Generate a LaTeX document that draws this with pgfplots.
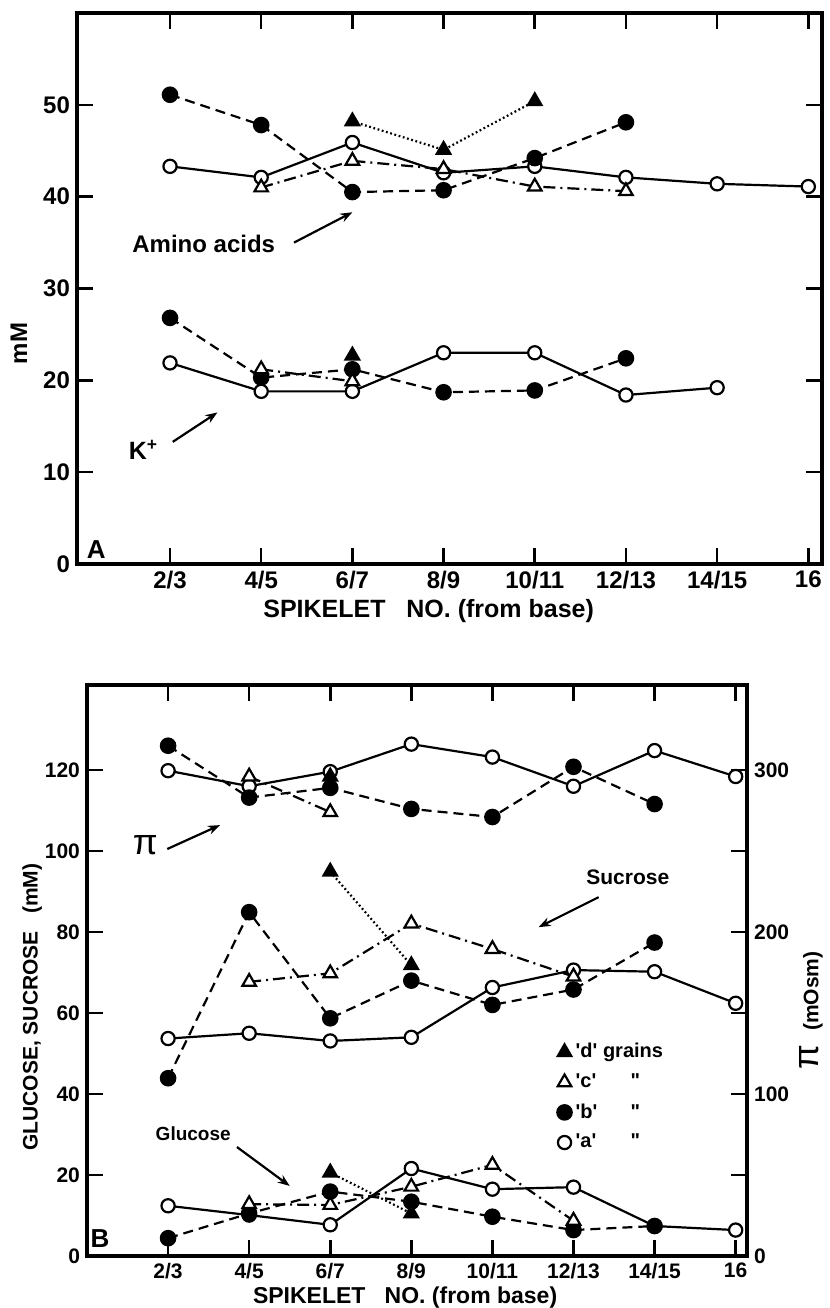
\documentclass[border=0pt]{standalone}
\usepackage{fontspec}
\setmainfont{Liberation Sans}
\usepackage{pgfplots}
\pgfplotsset{compat=1.18}
\usetikzlibrary{arrows.meta}

\tikzset{annarrow/.style={-{Stealth[length=6pt,width=4.5pt]}, line width=1.1pt, solid}}
\pgfplotsset{
  sa/.style={black, line width=1.1pt, solid, mark=*, mark size=3.3pt, mark options={solid, fill=white, line width=1.1pt}},
  sb/.style={black, line width=1.1pt, dash pattern=on 5pt off 3pt, mark=*, mark size=3.6pt, mark options={solid, fill=black}},
  sc/.style={black, line width=1.1pt, dash pattern=on 6pt off 2.5pt on 1pt off 2.5pt, mark=triangle*, mark size=3.9pt, mark options={solid, fill=white, line width=1.1pt}},
  sd/.style={black, line width=1.1pt, dash pattern=on 0.9pt off 1.3pt, mark=triangle*, mark size=3.9pt, mark options={solid, fill=black}},
  panel/.style={
    scale only axis, clip=false,
    axis line style={line width=1.8pt},
    every tick/.style={line width=1.3pt, black},
    major tick length=8pt, tick align=inside,
    xtick={0,...,7},
    xticklabels={2/3,4/5,6/7,8/9,10/11,12/13,14/15,16},
    /pgf/number format/assume math mode=true,
    xtick pos=both,
  },
}

\begin{document}
\begin{tikzpicture}
\useasboundingbox (0,0) rectangle (415pt,654pt);

% ---------------- Panel A ----------------
\begin{axis}[panel,
  at={(38.5pt,372pt)}, anchor=south west,
  width=372.5pt, height=275.5pt,
  xmin=-1.02, xmax=7.15, ymin=0, ymax=60,
  ytick={0,10,20,30,40,50}, ytick pos=both,
  ticklabel style={font=\fontsize{12}{14}\selectfont\bfseries},
  yticklabel pos=left,
]
% amino acids
\addplot[sa] coordinates {(0,43.3)(1,42.1)(2,45.9)(3,42.6)(4,43.3)(5,42.1)(6,41.4)(7,41.1)};
\addplot[sb] coordinates {(0,51.1)(1,47.8)(2,40.5)(3,40.7)(4,44.2)(5,48.1)};
\addplot[sc] coordinates {(1,41.0)(2,43.9)(3,43.0)(4,41.1)(5,40.6)};
\addplot[sd] coordinates {(2,48.2)(3,45.1)(4,50.4)};
% K+
\addplot[sa] coordinates {(0,21.9)(1,18.8)(2,18.8)(3,23.0)(4,23.0)(5,18.4)(6,19.2)};
\addplot[sb] coordinates {(0,26.8)(1,20.3)(2,21.2)(3,18.7)(4,18.9)(5,22.4)};
\addplot[sc] coordinates {(1,21.2)(2,19.9)};
\addplot[sd] coordinates {(2,22.7)};

\node[font=\fontsize{12}{14}\selectfont\bfseries] at (axis cs:0.37,34.9) {Amino acids};
\draw[annarrow] (axis cs:1.36,35.0) -- (axis cs:2.0,38.3);
\node[font=\fontsize{12.5}{14}\selectfont\bfseries] at (axis cs:-0.29,12.4) {K\textsuperscript{+}};
\draw[annarrow] (axis cs:0.03,13.3) -- (axis cs:0.52,16.5);
\node[font=\fontsize{13}{14}\selectfont\bfseries] at (axis cs:-0.81,1.6) {A};
\node[font=\fontsize{12}{14}\selectfont\bfseries, rotate=90] at (rel axis cs:-0.078,0.40) {mM};
\node[font=\fontsize{12.5}{14}\selectfont\bfseries] at (rel axis cs:0.472,-0.085) {SPIKELET\ \ \ NO.\ (from base)};
\end{axis}

% ---------------- Panel B (left axis, mM) ----------------
\begin{axis}[panel,
  at={(43.5pt,26pt)}, anchor=south west,
  width=330pt, height=285.5pt,
  xmin=-1.0, xmax=7.14, ymin=0, ymax=141,
  ytick={0,20,...,120}, ytick pos=left,
  ticklabel style={font=\fontsize{10.5}{12}\selectfont\bfseries},
  legend style={at={(rel axis cs:0.712,0.38)}, anchor=north west, draw=none, fill=none,
    font=\fontsize{10}{12}\selectfont\bfseries, row sep=2.5pt, inner sep=0pt},
  legend cell align=left,
]
\addlegendimage{sd, only marks}
\addlegendentry{\textquotesingle d\textquotesingle\ grains}
\addlegendimage{sc, only marks}
\addlegendentry{\makebox[2.75em][l]{\textquotesingle c\textquotesingle}\textquotedbl}
\addlegendimage{sb, only marks}
\addlegendentry{\makebox[2.75em][l]{\textquotesingle b\textquotesingle}\textquotedbl}
\addlegendimage{sa, only marks}
\addlegendentry{\makebox[2.75em][l]{\textquotesingle a\textquotesingle}\textquotedbl}

% sucrose
\addplot[sa, forget plot] coordinates {(0,53.7)(1,55.0)(2,53.1)(3,54.0)(4,66.3)(5,70.6)(6,70.2)(7,62.4)};
\addplot[sb, forget plot] coordinates {(0,43.9)(1,84.9)(2,58.7)(3,68.0)(4,62.0)(5,65.8)(6,77.4)};
\addplot[sc, forget plot] coordinates {(1,67.7)(2,69.8)(3,82.1)(4,75.8)(5,69.0)};
\addplot[sd, forget plot] coordinates {(2,94.9)(3,71.8)};
% glucose
\addplot[sa, forget plot] coordinates {(0,12.4)(1,10.1)(2,7.7)(3,21.6)(4,16.5)(5,17.0)(6,7.4)(7,6.4)};
\addplot[sb, forget plot] coordinates {(0,4.4)(1,10.5)(2,15.9)(3,13.4)(4,9.7)(5,6.4)(6,7.4)};
\addplot[sc, forget plot] coordinates {(1,12.8)(2,12.6)(3,17.1)(4,22.5)(5,8.7)};
\addplot[sd, forget plot] coordinates {(2,20.6)(3,10.5)};

\node[font=\fontsize{18}{18}\selectfont] at (axis cs:-0.28,101.5) {π};
\draw[annarrow] (axis cs:-0.01,100.5) -- (axis cs:0.64,106.4);
\node[font=\fontsize{10.5}{12}\selectfont\bfseries] at (axis cs:5.67,93.6) {Sucrose};
\draw[annarrow] (axis cs:5.31,88.6) -- (axis cs:4.57,81.2);
\node[font=\fontsize{9.5}{11}\selectfont\bfseries] at (axis cs:0.31,30.3) {Glucose};
\draw[annarrow] (axis cs:0.85,26.9) -- (axis cs:1.5,17.3);
\node[font=\fontsize{13}{14}\selectfont\bfseries] at (axis cs:-0.84,4.2) {B};
\node[font=\fontsize{10.5}{12}\selectfont\bfseries, rotate=90] at (rel axis cs:-0.083,0.436) {GLUCOSE,\ SUCROSE\ \ \ (mM)};
\node[font=\fontsize{11.5}{14}\selectfont\bfseries] at (rel axis cs:0.482,-0.072) {SPIKELET\ \ \ NO.\ (from base)};
\node[rotate=90, anchor=center] at (rel axis cs:1.097,0.43) {{\fontsize{18}{18}\selectfont π}\hspace{0.7em}{\fontsize{10.5}{12}\selectfont\bfseries(mOsm)}};
\end{axis}

% ---------------- Panel B (right axis, mOsm) ----------------
\begin{axis}[
  scale only axis, clip=false,
  at={(43.5pt,26pt)}, anchor=south west,
  width=330pt, height=285.5pt,
  xmin=-1.0, xmax=7.14, ymin=0, ymax=352.5,
  hide x axis, axis y line*=right,
  axis line style={line width=1.8pt, -},
  every tick/.style={line width=1.3pt, black},
  major tick length=8pt, tick align=inside,
  ytick={0,50,...,300},
  yticklabels={0,,100,,200,,300},
  /pgf/number format/assume math mode=true,
  ticklabel style={font=\fontsize{10.5}{12}\selectfont\bfseries},
]
% osmotic pressure pi (mOsm)
\addplot[sa] coordinates {(0,299.6)(1,290)(2,299)(3,316)(4,308)(5,290)(6,312)(7,296)};
\addplot[sb] coordinates {(0,315)(1,283)(2,289)(3,276)(4,271)(5,302)(6,279)};
\addplot[sc] coordinates {(1,296)(2,274)};
\addplot[sd] coordinates {(2,296)};
\end{axis}
\end{tikzpicture}
\end{document}
